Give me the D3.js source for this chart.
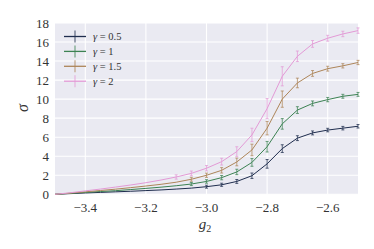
<!DOCTYPE html>
<html>
<head>
<meta charset="utf-8">
<script src="https://cdn.jsdelivr.net/npm/d3@7"></script>
</head>
<body style="margin:0">
<script>
(function () {

//data
    var g2 = [-3.5, -3.45, -3.4, -3.35, -3.3, -3.25, -3.2, -3.15, -3.1, -3.05, -3.0,
        -2.95, -2.9, -2.85, -2.8, -2.75, -2.7, -2.65, -2.6, -2.55, -2.5];
    var gammas = ["0.5", "1", "1.5", "2"];
    var sigma05 = [0, 0.07, 0.14, 0.2, 0.26, 0.32, 0.39, 0.46, 0.55, 0.65, 0.8,
        1.0, 1.35, 1.95, 3.2, 4.8, 5.9, 6.45, 6.75, 6.95, 7.15];
    var sigma1 = [0, 0.1, 0.2, 0.29, 0.38, 0.5, 0.62, 0.75, 0.9, 1.08, 1.35,
        1.75, 2.35, 3.35, 5.0, 7.4, 8.85, 9.55, 9.95, 10.3, 10.5];
    var sigma15 = [0, 0.12, 0.26, 0.4, 0.54, 0.7, 0.87, 1.05, 1.27, 1.58, 2.0,
        2.52, 3.4, 4.66, 6.95, 10.0, 11.7, 12.7, 13.2, 13.5, 13.85];
    var sigma2 = [0, 0.16, 0.36, 0.55, 0.76, 0.98, 1.22, 1.5, 1.82, 2.2, 2.74,
        3.43, 4.49, 6.24, 9.0, 12.4, 14.5, 15.8, 16.4, 16.85, 17.2];
    var err05 = [0, 0, 0, 0, 0, 0, 0, 0, 0, 0, 0.05,
        0.06, 0.1, 0.18, 0.35, 0.3, 0.15, 0.1, 0.08, 0.08, 0.08];
    var err1 = [0, 0, 0, 0, 0, 0, 0, 0, 0, 0.06, 0.08,
        0.12, 0.18, 0.3, 0.45, 0.45, 0.25, 0.15, 0.12, 0.1, 0.1];
    var err15 = [0, 0, 0, 0, 0, 0, 0, 0, 0, 0.1, 0.12,
        0.18, 0.3, 0.5, 0.6, 0.75, 0.4, 0.2, 0.15, 0.12, 0.12];
    var err2 = [0, 0, 0, 0, 0, 0, 0, 0, 0.12, 0.14, 0.18,
        0.25, 0.4, 0.6, 0.95, 0.9, 0.45, 0.25, 0.2, 0.18, 0.18];
    var xTicks = [-3.4, -3.2, -3.0, -2.8, -2.6];
    var yTicks = [0, 2, 4, 6, 8, 10, 12, 14, 16, 18];

    var colors = ["#1f2d4e", "#3c8253", "#ad8559", "#e39ad6"];
    var allSeries = [sigma05, sigma1, sigma15, sigma2];
    var allErrors = [err05, err1, err15, err2];
    var serif = "'Liberation Serif'";

    var width = 374,
        height = 249,
        left = 55,
        right = 358,
        top = 23,
        bottom = 194.3;

    var x = d3.scaleLinear().domain([-3.5, -2.5]).range([left, right]);
    var y = d3.scaleLinear().domain([0, 18]).range([bottom, top]);

    var svg = d3.select("body")
        .append("svg")
        .attr("width", width)
        .attr("height", height);

    //panel background
    svg.append("rect")
        .attr("x", left)
        .attr("y", top)
        .attr("width", right - left)
        .attr("height", bottom - top)
        .attr("fill", "#eaeaf2");

    //grid lines
    svg.selectAll(".xgrid")
        .data(xTicks)
        .enter()
        .append("line")
        .attr("x1", function (d) { return x(d); })
        .attr("x2", function (d) { return x(d); })
        .attr("y1", top)
        .attr("y2", bottom)
        .attr("stroke", "#fff")
        .attr("stroke-width", 1.1);

    svg.selectAll(".ygrid")
        .data(yTicks)
        .enter()
        .append("line")
        .attr("x1", left)
        .attr("x2", right)
        .attr("y1", function (d) { return y(d); })
        .attr("y2", function (d) { return y(d); })
        .attr("stroke", "#fff")
        .attr("stroke-width", 1.1);

    //tick labels
    svg.selectAll(".xlab")
        .data(xTicks)
        .enter()
        .append("text")
        .attr("x", function (d) { return x(d); })
        .attr("y", 212)
        .attr("text-anchor", "middle")
        .attr("font-size", 13)
        .style("font-family", serif)
        .attr("fill", "#333")
        .text(function (d) { return d3.format(".1f")(d).replace("-", "\u2212"); });

    svg.selectAll(".ylab")
        .data(yTicks)
        .enter()
        .append("text")
        .attr("x", 49)
        .attr("y", function (d) { return y(d) + 4.5; })
        .attr("text-anchor", "end")
        .attr("font-size", 13)
        .style("font-family", serif)
        .attr("fill", "#333")
        .text(function (d) { return d; });

    //axis labels
    var xl = svg.append("text")
        .attr("x", 205)
        .attr("y", 229)
        .attr("text-anchor", "middle")
        .attr("font-size", 15)
        .style("font-family", serif)
        .attr("font-style", "italic")
        .attr("fill", "#333")
        .text("g");
    xl.append("tspan")
        .attr("font-size", 10)
        .attr("font-style", "normal")
        .attr("dy", 3)
        .text("2");

    svg.append("text")
        .attr("transform", "translate(28,108) rotate(-90)")
        .attr("text-anchor", "middle")
        .attr("font-size", 16)
        .style("font-family", serif)
        .attr("font-style", "italic")
        .attr("fill", "#333")
        .text("\u03c3");

    //lines with error bars
    var line = d3.line()
        .x(function (d, i) { return x(g2[i]); })
        .y(function (d) { return y(d); });

    allSeries.forEach(function (series, k) {
        var grp = svg.append("g");
        grp.append("path")
            .datum(series)
            .attr("d", line)
            .attr("fill", "none")
            .attr("stroke", colors[k])
            .attr("stroke-width", 1);

        var errs = allErrors[k];
        var pts = series.map(function (d, i) { return { g: g2[i], v: d, e: errs[i] }; })
            .filter(function (p) { return p.e > 0; });
        var bars = grp.selectAll(".err")
            .data(pts)
            .enter()
            .append("g")
            .attr("stroke", colors[k])
            .attr("stroke-opacity", 0.75)
            .attr("stroke-width", 1);
        bars.append("line")
            .attr("x1", function (d) { return x(d.g); })
            .attr("x2", function (d) { return x(d.g); })
            .attr("y1", function (d) { return y(d.v - d.e) + 1; })
            .attr("y2", function (d) { return y(d.v + d.e) - 1; });
        bars.append("line")
            .attr("x1", function (d) { return x(d.g) - 1.5; })
            .attr("x2", function (d) { return x(d.g) + 1.5; })
            .attr("y1", function (d) { return y(d.v - d.e) + 1; })
            .attr("y2", function (d) { return y(d.v - d.e) + 1; });
        bars.append("line")
            .attr("x1", function (d) { return x(d.g) - 1.5; })
            .attr("x2", function (d) { return x(d.g) + 1.5; })
            .attr("y1", function (d) { return y(d.v + d.e) - 1; })
            .attr("y2", function (d) { return y(d.v + d.e) - 1; });
    });

    //legend
    var legend = svg.selectAll(".legend")
        .data(gammas)
        .enter()
        .append("g")
        .attr("transform", function (d, i) { return "translate(0," + (36.5 + i * 14.9) + ")"; });

    legend.append("line")
        .attr("x1", 64).attr("x2", 86)
        .attr("y1", 0).attr("y2", 0)
        .attr("stroke", function (d, i) { return colors[i]; })
        .attr("stroke-width", 1.3);
    legend.append("line")
        .attr("x1", 75).attr("x2", 75)
        .attr("y1", -6).attr("y2", 6)
        .attr("stroke", function (d, i) { return colors[i]; })
        .attr("stroke-opacity", 0.7)
        .attr("stroke-width", 1.2);
    var lt = legend.append("text")
        .attr("x", 93)
        .attr("y", 3.5)
        .attr("font-size", 10.5)
        .style("font-family", serif)
        .attr("fill", "#333");
    lt.append("tspan")
        .attr("font-style", "italic")
        .text("\u03b3");
    lt.append("tspan")
        .text(function (d) { return " = " + d; });

})();
</script>
</body>
</html>
